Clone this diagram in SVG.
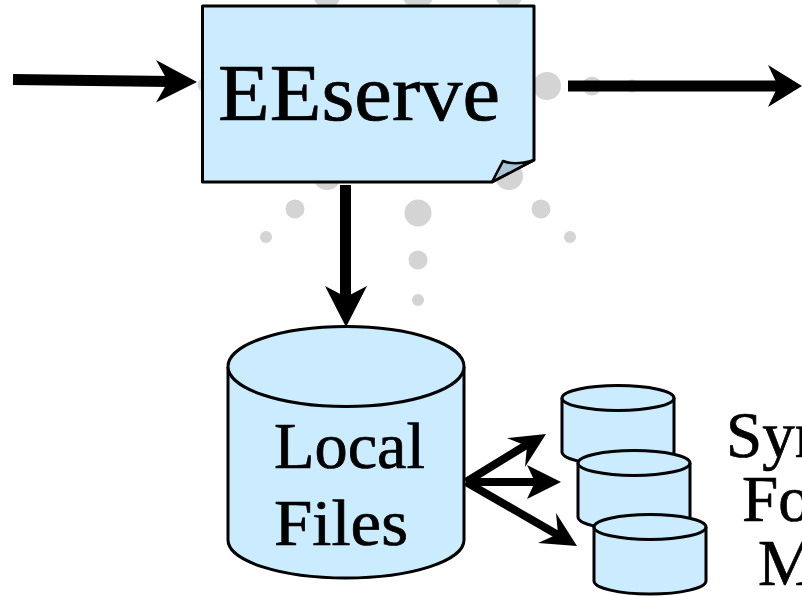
<svg xmlns="http://www.w3.org/2000/svg" width="802" height="596" viewBox="0 0 802 596">
<style>
.dot{fill:#d4d4d4}
.shape{fill:#cbebff;stroke:#000;stroke-width:3;stroke-linejoin:round}
.small{stroke-width:3}
.fold{fill:#a9c6d9;stroke:#000;stroke-width:2.6;stroke-linejoin:round}
.label{font-family:"Liberation Serif","Times New Roman",serif;fill:#000;stroke:#000;stroke-width:.7}
.big{font-size:65px}
.line{stroke:#000;fill:none}
.head{fill:#000}
</style>
<rect width="802" height="596" fill="#fff"/>
<g id="background-dots">
<circle class="dot" cx="327" cy="-6" r="14"/>
<circle class="dot" cx="418" cy="-7" r="16"/>
<circle class="dot" cx="509" cy="-6" r="14"/>
<circle class="dot" cx="204" cy="85" r="6.5"/>
<circle class="dot" cx="547" cy="86" r="14"/>
<circle class="dot" cx="592" cy="86" r="9.5"/>
<circle class="dot" cx="632" cy="86" r="6.5"/>
<circle class="dot" cx="327" cy="176" r="14"/>
<circle class="dot" cx="509" cy="176" r="14"/>
<circle class="dot" cx="295" cy="209" r="9.5"/>
<circle class="dot" cx="418" cy="213" r="13.5"/>
<circle class="dot" cx="541" cy="209" r="9.5"/>
<circle class="dot" cx="266" cy="237" r="6"/>
<circle class="dot" cx="570" cy="237" r="6"/>
<circle class="dot" cx="418" cy="260" r="9.5"/>
<circle class="dot" cx="418" cy="300" r="6"/>
</g>
<g id="node-eeserve">
<path class="shape" d="M202.500 6H534V160L492 182H202.500Z"/>
<path class="fold" d="M492 182L503 161Q515 166 534 160Z"/>
<text class="label" x="218" y="120" font-size="80" textLength="282" lengthAdjust="spacingAndGlyphs">EEserve</text>
</g>
<g id="node-local-files">
<path class="shape" d="M228 367V540C228 561 281 578 346 578S464 561 464 540V367"/>
<ellipse class="shape" cx="346" cy="366.500" rx="118" ry="40"/>
<text class="label big" x="274" y="468" textLength="151" lengthAdjust="spacingAndGlyphs">Local</text>
<text class="label big" x="274" y="545" textLength="134" lengthAdjust="spacingAndGlyphs">Files</text>
</g>
<g id="node-store-1">
<path class="shape small" d="M562 398V452C562 459 587 465 618 465S674 459 674 452V398"/>
<ellipse class="shape small" cx="618" cy="398" rx="56" ry="12.500"/>
</g>
<g id="node-store-2">
<path class="shape small" d="M578 463V517C578 524 603 530 634 530S690 524 690 517V463"/>
<ellipse class="shape small" cx="634" cy="463" rx="56" ry="12.500"/>
</g>
<g id="node-store-3">
<path class="shape small" d="M594 527V581C594 588 619 594 650 594S706 588 706 581V527"/>
<ellipse class="shape small" cx="650" cy="527" rx="56" ry="12.500"/>
</g>
<g id="node-caption">
<text class="label big" x="726" y="457">Syn</text>
<text class="label big" x="742" y="521">Fo</text>
<text class="label big" x="758" y="585">M</text>
</g>
<g id="connectors">
<path class="line" stroke-width="11" d="M13 79.500L170 81.500"/>
<path class="head" d="M197 82L156 60L168 81.500L156 102.500Z"/>
<path class="line" stroke-width="11" d="M568 86H780"/>
<path class="head" d="M802 86L768 65L778 86L768 107Z"/>
<path class="line" stroke-width="11" d="M345.500 185V300"/>
<path class="head" d="M346 327L325 286L346 297L367 286Z"/>
<path class="line" stroke-width="8" d="M466 482L528 444"/>
<path class="head" d="M546 434L507 438L527 446L525 467Z"/>
<path class="line" stroke-width="8" d="M466 482H535"/>
<path class="head" d="M561 482L527 465L535 482L527 499Z"/>
<path class="line" stroke-width="8" d="M466 482L558 535"/>
<path class="head" d="M577 546L556 513L558 534L538 543Z"/>
</g>
</svg>
